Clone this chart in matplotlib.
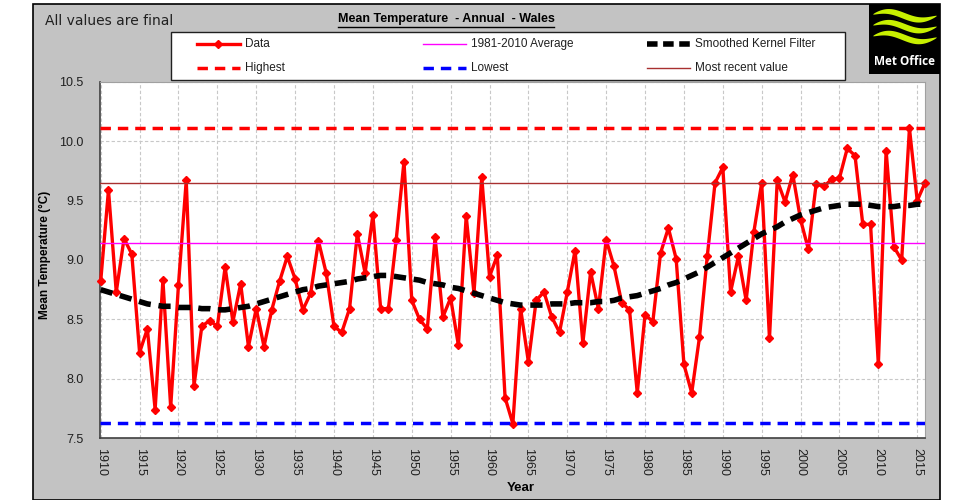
import numpy as np
import matplotlib
matplotlib.use("Agg")
import matplotlib.pyplot as plt
from matplotlib.lines import Line2D
from matplotlib.patches import Rectangle

# annual mean temperature, Wales
years = list(range(1910, 2017))
temps = [
    8.82, 9.59, 8.73, 9.18, 9.05, 8.22, 8.42, 7.74, 8.83, 7.76,   # 1910s
    8.79, 9.67, 7.94, 8.44, 8.49, 8.44, 8.94, 8.48, 8.80, 8.27,   # 1920s
    8.59, 8.27, 8.58, 8.82, 9.03, 8.84, 8.58, 8.72, 9.16, 8.89,   # 1930s
    8.44, 8.39, 8.59, 9.22, 8.89, 9.38, 8.59, 8.59, 9.17, 9.83,   # 1940s
    8.66, 8.50, 8.42, 9.19, 8.52, 8.68, 8.28, 9.37, 8.72, 9.70,   # 1950s
    8.86, 9.04, 7.84, 7.62, 8.59, 8.14, 8.66, 8.73, 8.52, 8.39,   # 1960s
    8.73, 9.08, 8.30, 8.90, 8.59, 9.17, 8.95, 8.64, 8.58, 7.88,   # 1970s
    8.54, 8.48, 9.06, 9.27, 9.01, 8.12, 7.88, 8.35, 9.03, 9.65,   # 1980s
    9.78, 8.73, 9.03, 8.66, 9.24, 9.65, 8.34, 9.67, 9.49, 9.72,   # 1990s
    9.34, 9.09, 9.64, 9.62, 9.68, 9.69, 9.94, 9.88, 9.30, 9.30,   # 2000s
    8.12, 9.92, 9.11, 9.00, 10.11, 9.50, 9.65,                    # 2010s
]
smoothed = [
    8.75, 8.73, 8.71, 8.69, 8.67, 8.65, 8.63, 8.62, 8.61, 8.61,
    8.60, 8.60, 8.60, 8.59, 8.59, 8.58, 8.58, 8.59, 8.60, 8.61,
    8.63, 8.65, 8.67, 8.69, 8.71, 8.73, 8.75, 8.76, 8.78, 8.79,
    8.80, 8.81, 8.82, 8.84, 8.85, 8.86, 8.87, 8.87, 8.86, 8.85,
    8.84, 8.83, 8.81, 8.80, 8.79, 8.77, 8.76, 8.74, 8.72, 8.70,
    8.68, 8.66, 8.64, 8.63, 8.62, 8.62, 8.62, 8.62, 8.63, 8.63,
    8.63, 8.64, 8.64, 8.64, 8.65, 8.65, 8.66, 8.68, 8.69, 8.70,
    8.72, 8.74, 8.76, 8.79, 8.81, 8.84, 8.87, 8.90, 8.94, 8.98,
    9.02, 9.06, 9.10, 9.14, 9.18, 9.22, 9.25, 9.28, 9.32, 9.35,
    9.38, 9.40, 9.42, 9.44, 9.45, 9.46, 9.47, 9.47, 9.47, 9.46,
    9.45, 9.45, 9.45, 9.46, 9.46, 9.47, 9.47,
]
average_8110 = 9.14
highest = 10.11
lowest = 7.63
most_recent = 9.65

W, H = 954, 500
fig = plt.figure(figsize=(W / 100, H / 100), dpi=100, facecolor="white")

def fx(px):
    return px / W

def fy(py):
    return 1 - py / H

# grey chart panel
fig.patches.append(Rectangle((fx(33), 0), fx(940) - fx(33), fy(4), transform=fig.transFigure,
                             facecolor="#c3c3c3", edgecolor="black", lw=1.2, zorder=-10))

ax = fig.add_axes([fx(100), fy(438), fx(925) - fx(100), fy(82) - fy(438)])
ax.set_facecolor("white")

# line styles
data_kw = dict(color="red", lw=2.4, marker="D", ms=4.2)
avg_kw = dict(color="magenta", lw=1)
smooth_kw = dict(color="black", lw=4, dashes=(2.2, 1.4))
high_kw = dict(color="red", lw=2.5, dashes=(3, 2))
low_kw = dict(color="blue", lw=2.5, dashes=(3, 2))
recent_kw = dict(color="#a83030", lw=1)

# series (Excel order)
ax.plot(years, temps, zorder=3, clip_on=False, **data_kw)
ax.axhline(average_8110, zorder=4, **avg_kw)
ax.plot(years, smoothed, zorder=5, **smooth_kw)
ax.axhline(highest, zorder=4, **high_kw)
ax.axhline(lowest, zorder=4, **low_kw)
ax.axhline(most_recent, zorder=4, **recent_kw)

ax.set_xlim(1909.91, 2016)
ax.set_ylim(7.5, 10.5)
ax.set_xticks(range(1910, 2016, 5))
ax.set_xticklabels([str(y) for y in range(1910, 2016, 5)], rotation=270,
                   fontsize=9, family="Liberation Sans", color="#202020")
ax.set_yticks(np.arange(7.5, 10.51, 0.5))
ax.set_yticklabels([f"{v:.1f}" for v in np.arange(7.5, 10.51, 0.5)],
                   fontsize=9, family="Liberation Sans", color="#202020")
ax.tick_params(axis="both", length=0)
ax.tick_params(axis="x", pad=7)
ax.tick_params(axis="y", pad=12)
ax.grid(True, color="#c8c8c8", ls=(0, (3, 2)), lw=0.8)
ax.set_axisbelow(True)
for s in ["left", "bottom"]:
    ax.spines[s].set_color("#404040")
    ax.spines[s].set_linewidth(1.2)
for s in ["top", "right"]:
    ax.spines[s].set_color("#a0a0a0")

# axis titles
fig.text(fx(45), fy(255), "Mean Temperature (°C)", rotation=90, ha="center", va="center",
         fontsize=8.5, fontweight="bold", family="Liberation Sans")
fig.text(fx(521), fy(488), "Year", ha="center", va="center",
         fontsize=9.5, fontweight="bold", family="Liberation Sans")

# header texts
fig.text(fx(45), fy(21), "All values are final", ha="left", va="center",
         fontsize=10, family="DejaVu Sans", color="#202020")
title = fig.text(fx(446), fy(19), "Mean Temperature  - Annual  - Wales", ha="center", va="center",
                 fontsize=9, fontweight="bold", family="Liberation Sans")

# legend box, laid out like the Excel one
fig.patches.append(Rectangle((fx(171), fy(80)), fx(845) - fx(171), fy(32) - fy(80),
                             transform=fig.transFigure, facecolor="white", edgecolor="#202020",
                             lw=1.0, zorder=1))
legend_items = [
    ("Data", data_kw, 197, 44),
    ("1981-2010 Average", avg_kw, 423, 44),
    ("Smoothed Kernel Filter", dict(smooth_kw, dashes=(1.9, 1.0)), 647, 44),
    ("Highest", high_kw, 197, 68),
    ("Lowest", low_kw, 423, 68),
    ("Most recent value", recent_kw, 647, 68),
]
for label, kw, x0, y0 in legend_items:
    kw = dict(kw)
    marker = kw.pop("marker", None)
    ms = kw.pop("ms", None)
    fig.lines.append(Line2D([fx(x0), fx(x0 + 43)], [fy(y0), fy(y0)], transform=fig.transFigure,
                            zorder=2, **kw))
    if marker:
        fig.lines.append(Line2D([fx(x0 + 21.5)], [fy(y0)], transform=fig.transFigure, marker=marker,
                                ms=ms, color=kw["color"], lw=0, zorder=3))
    fig.text(fx(x0 + 48), fy(y0), label, ha="left", va="center", fontsize=8.5,
             family="Liberation Sans", color="#202020", zorder=3)

# Met Office logo
logo = fig.add_axes([fx(869), fy(74), fx(940) - fx(869), fy(4) - fy(74)])
logo.set_xlim(0, 1)
logo.set_ylim(0, 1)
logo.set_axis_off()
logo.add_patch(Rectangle((0, 0), 1, 1, facecolor="black", edgecolor="none"))
t = np.linspace(0.05, 0.95, 80)
half = 0.045 * np.sin(np.pi * (t - 0.05) / 0.9) ** 0.6
for base in [0.84, 0.685, 0.53]:
    mid = base + 0.06 * np.sin((t - 0.05) * 2 * np.pi * 1.05 + 0.3)
    logo.fill_between(t, mid - half, mid + half, color="#c8f000", lw=0)
logo.text(0.5, 0.18, "Met Office", color="white", ha="center", va="center",
          fontsize=8.5, fontweight="bold", family="Open Sans")

# underline for the title
fig.canvas.draw()
bb = title.get_window_extent().transformed(fig.transFigure.inverted())
fig.lines.append(Line2D([bb.x0, bb.x1], [bb.y0 - 0.004, bb.y0 - 0.004], transform=fig.transFigure,
                        color="black", lw=1))

fig.savefig("out.png", dpi=100, facecolor="white")
